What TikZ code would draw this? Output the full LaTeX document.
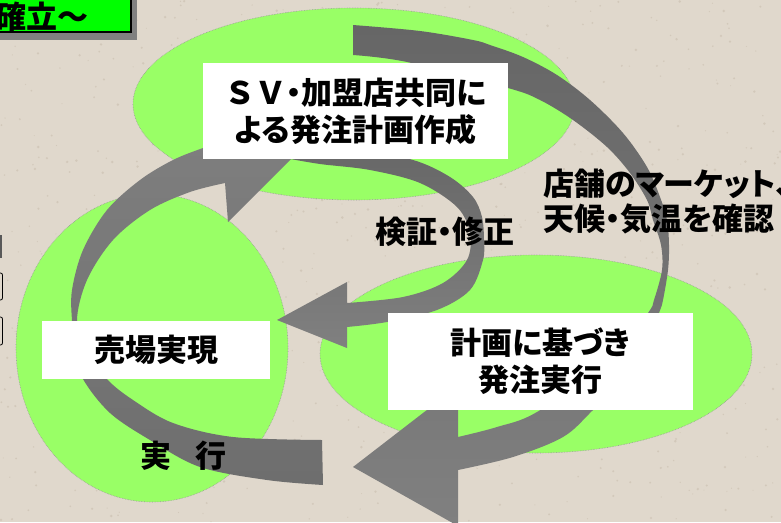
\documentclass[tikz,border=0pt]{standalone}
\usepackage{fontspec}
\newfontfamily\jp{Noto Sans CJK JP}[RawFeature=+palt]
\newfontfamily\jpf{Noto Sans CJK JP}
\newcommand\jptext{\jp\bfseries\fontsize{31}{37}\selectfont}
\newcommand\jplabel{\jp\bfseries\fontsize{31}{35}\selectfont}
\definecolor{bgc}{RGB}{224,216,204}
\definecolor{speck}{RGB}{200,188,172}
\definecolor{ellc}{RGB}{153,255,102}
\definecolor{ttlc}{RGB}{0,255,0}
\definecolor{arrc}{RGB}{128,128,128}
\definecolor{arrdc}{RGB}{102,102,102}
\begin{document}
\begin{tikzpicture}[x=1pt,y=-1pt,
  blob/.style={fill=ellc, draw=gray!80, densely dotted, line width=0.6pt},
  wbox/.style={fill=white, inner sep=0pt, align=center, font=\jptext},
  lbl/.style={inner sep=0pt, align=left, font=\jplabel},
  ribbon/.style={top color=arrdc, bottom color=arrc},
  sm/.style={smooth, tension=0.55}]
\useasboundingbox (0,0) rectangle (781,522);
\clip (0,0) rectangle (781,522);
\fill[bgc] (0,0) rectangle (781,522);
% paper texture
\pgfmathsetseed{11}
\foreach \i in {1,...,900}{
  \fill[speck, opacity=0.55] ({rnd*781},{rnd*522}) circle ({0.5+rnd*0.9});
}

% title box (partly off the page)
\fill[arrc] (-20,-10) rectangle (137,40);
\draw[fill=ttlc, line width=2pt] (-20,-10) rectangle (131,32);
\node[lbl, anchor=west] (title) at (-5,17) {確立～};

% fragments at the left edge
\fill[gray!70!black] (-10,235) rectangle (1.5,258);
\draw[rounded corners=2pt, line width=0.8pt] (-20,273) rectangle (2.5,300);
\draw[rounded corners=2pt, line width=0.8pt] (-20,317) rectangle (2.5,345);

% green ellipses
\draw[blob] (354,104) ellipse [x radius=221, y radius=96];
\draw[blob] (152,348) ellipse [x radius=136, y radius=154];
\draw[blob] (536,354) ellipse [x radius=216, y radius=99];

% arrow A (top, around to the bottom)
\shade[ribbon]
  plot[sm] coordinates {(353,25) (420,31) (473,40) (490,45) (523,57) (557,75) (590,100) (623,133) (647,167) (660,197) (667,220) (669,245) (668,270) (663,300) (659,313) (640,362) (593,410) (563,437) (513,457) (458,470)}
  -- (458,526) -- (353,467) -- (458,386) -- (458,437)
  -- plot[sm] coordinates {(458,437) (497,427) (537,412) (612,360) (648,313) (654,300) (662,270) (661,245) (653,220) (647,200) (630,173) (607,147) (573,120) (540,100) (508,88) (407,62) (353,55)}
  -- cycle;

% arrow B (left, from bottom up to the top box)
\shade[top color=arrc, bottom color=arrdc!70!arrc]
  plot[sm] coordinates {(323,485) (267,480) (200,467) (150,440) (110,413) (83,379) (75,350) (72,321) (72,290) (83,250) (107,210) (140,180) (173,160) (203,148) (222,142)}
  -- (220,103) -- (310,140) -- (228,222) -- (225,183)
  -- plot[sm] coordinates {(225,183) (190,192) (150,210) (113,240) (87,280) (77,321) (88,350) (107,379) (133,400) (173,423) (233,437) (322,440)}
  -- cycle;

% arrow C (small loop: check and correct)
\shade[ribbon]
  plot[sm] coordinates {(290,140) (350,148) (413,160) (450,177) (473,197) (482,217) (484,240) (483,260) (470,290) (437,310) (387,322) (347,327)}
  -- (347,348) -- (277,320) -- (347,282) -- (347,303)
  -- plot[sm] coordinates {(347,303) (403,297) (443,283) (467,260) (470,233) (457,207) (420,183) (370,170) (320,164) (285,158)}
  -- cycle;

% white boxes
\node[wbox, minimum width=305pt, minimum height=96pt] (plan) at (355.5,111) {{\jpf ＳＶ}・加盟店共同に\\よる発注計画作成};
\node[wbox, minimum width=228pt, minimum height=58pt] (shop) at (156,350) {売場実現};
\node[wbox, minimum width=305pt, minimum height=97pt] (order) at (540.5,361.5) {計画に基づき\\発注実行};

% labels
\node[lbl, anchor=west] (market) at (543,201.5) {店舗のマーケット、\\天候・気温を確認};
\node[lbl] (verify) at (445,232) {検証・修正};
\node[lbl] (exec) at (183.5,456) {実\hspace{24pt}行};
\end{tikzpicture}
\end{document}
